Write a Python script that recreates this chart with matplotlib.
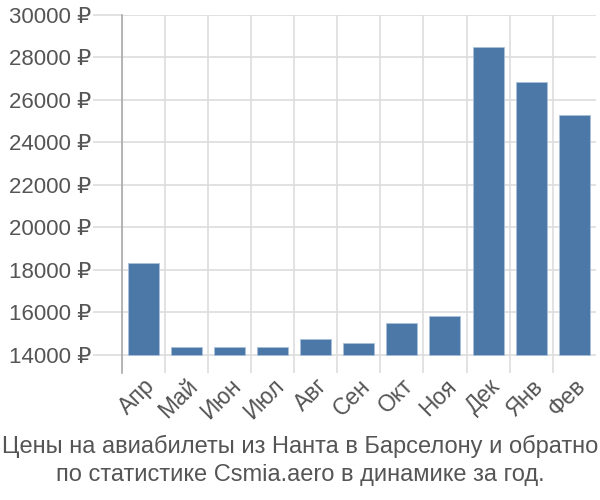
import numpy as np
from matplotlib import pyplot as plt

plt.rcParams['font.family'] = ['Liberation Sans', 'DejaVu Sans']

months = ['Апр', 'Май', 'Июн', 'Июл', 'Авг', 'Сен', 'Окт', 'Ноя', 'Дек', 'Янв', 'Фев']
prices = [18340, 14370, 14370, 14370, 14730, 14540, 15480, 15850, 28500, 26870, 25300]
yticks = [14000, 16000, 18000, 20000, 22000, 24000, 26000, 28000, 30000]
title = 'Цены на авиабилеты из Нанта в Барселону и обратно\nпо статистике Csmia.aero в динамике за год.'

base = 14000
x = np.arange(len(months))

fig = plt.figure(figsize=(6, 5), dpi=100)
ax = fig.add_axes([0.203, 0.254, 0.79, 0.716])

ax.bar(x, np.array(prices) - base, bottom=base, width=0.72,
       color='#4c78a8', edgecolor='#a9c0dc', linewidth=0.6, zorder=3)

ax.set_xlim(-0.5, len(months) - 0.5)
ax.set_ylim(13150, 30000)

ax.set_yticks(yticks)
ax.set_yticklabels([f'{v} ₽' for v in yticks])
ax.set_xticks(x)
ax.set_xticklabels(months, rotation=45, ha='right', va='top', rotation_mode='anchor')

# vertical grid between categories
ax.set_xticks(np.arange(len(months)) - 0.5, minor=True)
ax.grid(which='minor', axis='x', color='#dddddd', linewidth=1.2, zorder=0)
ax.grid(which='major', axis='y', color='#dddddd', linewidth=1.2, zorder=0)

ax.tick_params(axis='y', length=21, color='#dddddd', width=1.2,
               labelsize=16, labelcolor='#555555', pad=1)
ax.tick_params(axis='x', which='major', length=0, labelsize=16.5,
               labelcolor='#555555', pad=1)
ax.tick_params(axis='x', which='minor', length=0)

for s in ['top', 'right', 'bottom']:
    ax.spines[s].set_visible(False)
ax.spines['left'].set_color('#aaaaaa')
ax.spines['left'].set_linewidth(1.2)

fig.text(0.5, 0.079, title, ha='center', va='center', fontsize=17,
         color='#555555', linespacing=1.35)

plt.savefig('out.png', dpi=100)
plt.close()
